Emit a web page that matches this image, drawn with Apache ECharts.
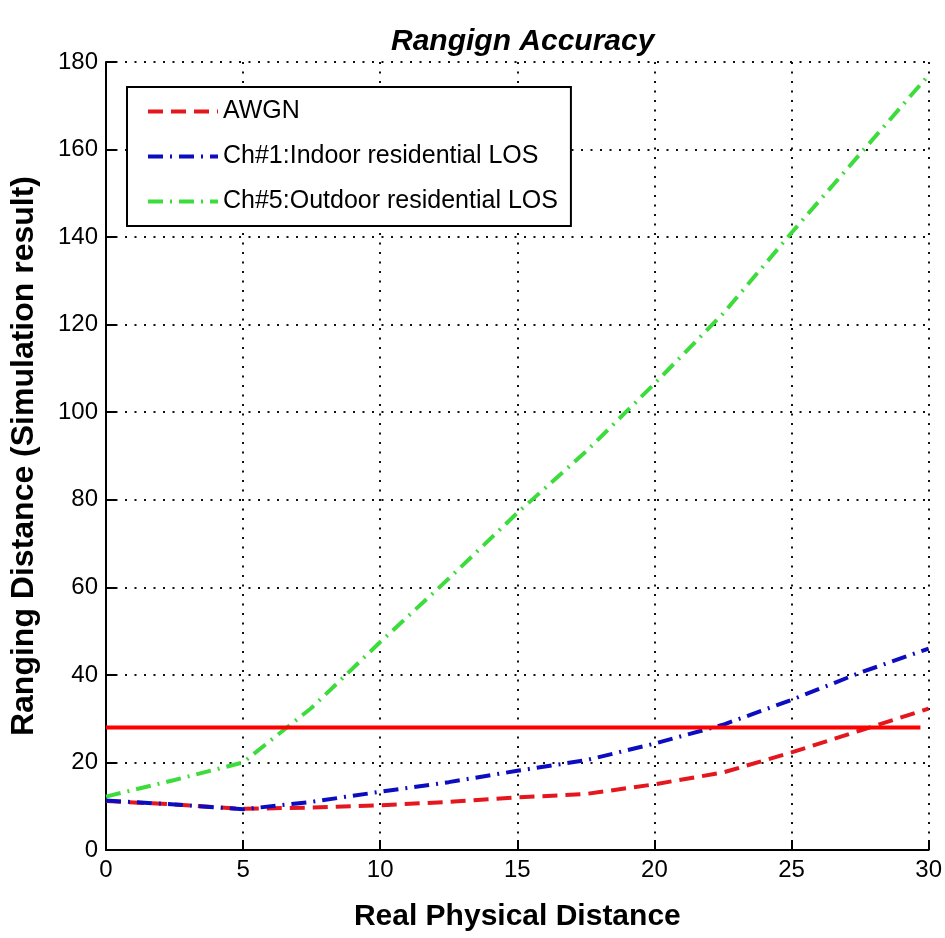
<!DOCTYPE html>
<html>
<head>
<meta charset="utf-8">
<title>Rangign Accuracy</title>
<script src="https://cdn.jsdelivr.net/npm/echarts@6/dist/echarts.min.js"></script>
<style>
  html, body { margin: 0; padding: 0; background: #fff; }
  #chart { width: 945px; height: 938px; }
</style>
</head>
<body>
<div id="chart"></div>
<script>
// values
const distances = [0, 2.5, 5, 7.5, 10, 12.5, 15, 17.5, 20, 22.5, 25, 27.5, 30];
const awgn = [11.2, 10.4, 9.4, 9.7, 10.2, 11, 12, 12.8, 15, 17.7, 22.3, 27.3, 32.3];
const ch1Indoor = [11.3, 10.4, 9.3, 11, 13.3, 15.5, 18.1, 20.5, 24.3, 28.6, 34.3, 40.5, 46];
const ch5Outdoor = [12.2, 16, 20, 32.5, 47.5, 62, 77, 91, 106.5, 122.5, 141, 159, 177];
const limitX = [0, 29.7];
const limitY = [28, 28];
const seriesNames = ["AWGN", "Ch#1:Indoor residential LOS", "Ch#5:Outdoor residential LOS"];

function pairs(xs, ys) {
  return xs.map((x, i) => [x, ys[i]]);
}

const font = "Liberation Sans, Arial, sans-serif";
const chart = echarts.init(document.getElementById("chart"));

const options = {
  backgroundColor: "#fff",
  animation: false,
  title: {
    text: "Rangign Accuracy",
    left: 386,
    top: 22,
    textStyle: {
      fontFamily: font,
      fontSize: 30,
      fontWeight: "bold",
      fontStyle: "italic",
      color: "#000",
    },
  },
  grid: {
    left: 103,
    right: 8,
    top: 62,
    bottom: 88,
  },
  legend: {
    data: seriesNames,
    orient: "vertical",
    left: 127,
    top: 87,
    itemWidth: 70,
    itemHeight: 24,
    itemGap: 20,
    padding: [12, 13, 12, 19],
    borderColor: "#000",
    borderWidth: 2,
    backgroundColor: "#fff",
    itemStyle: { opacity: 0 }, // only the line sample, no marker
    lineStyle: { width: 4 },
    textStyle: {
      fontFamily: font,
      fontSize: 25,
      color: "#000",
    },
  },
  xAxis: {
    type: "value",
    min: 0,
    max: 30,
    interval: 5,
    name: "Real Physical Distance",
    nameLocation: "middle",
    nameGap: 52,
    nameTextStyle: {
      fontFamily: font,
      fontSize: 30,
      fontWeight: "bold",
      color: "#000",
    },
    axisLine: { show: true, lineStyle: { color: "#000", width: 2 } },
    axisTick: { show: true, inside: true, length: 10, lineStyle: { color: "#000", width: 2 } },
    axisLabel: { fontFamily: font, fontSize: 24, color: "#000", margin: 8 },
    splitLine: {
      show: true,
      lineStyle: { color: "#111", width: 2, type: [2, 7.5] },
    },
  },
  yAxis: {
    type: "value",
    min: 0,
    max: 180,
    interval: 20,
    name: "Ranging Distance (Simulation result)",
    nameLocation: "middle",
    nameGap: 66,
    nameTextStyle: {
      fontFamily: font,
      fontSize: 32,
      fontWeight: "bold",
      color: "#000",
    },
    axisLine: { show: true, lineStyle: { color: "#000", width: 2 } },
    axisTick: { show: true, inside: true, length: 10, lineStyle: { color: "#000", width: 2 } },
    axisLabel: { fontFamily: font, fontSize: 24, color: "#000", margin: 8 },
    splitLine: {
      show: true,
      lineStyle: { color: "#111", width: 2, type: [2, 7.5] },
    },
  },
  series: [
    {
      name: seriesNames[0],
      type: "line",
      data: pairs(distances, awgn),
      symbol: "none",
      lineStyle: { color: "#e3171d", width: 4, type: [15, 8] },
      itemStyle: { color: "#e3171d" },
    },
    {
      name: seriesNames[1],
      type: "line",
      data: pairs(distances, ch1Indoor),
      symbol: "none",
      lineStyle: { color: "#0c0cc0", width: 4, type: [15, 7, 2, 7] },
      itemStyle: { color: "#0c0cc0" },
    },
    {
      name: seriesNames[2],
      type: "line",
      data: pairs(distances, ch5Outdoor),
      symbol: "none",
      lineStyle: { color: "#3ddc3d", width: 4, type: [15, 7, 2, 7] },
      itemStyle: { color: "#3ddc3d" },
    },
    {
      // red reference line drawn over the curves
      name: "limit",
      type: "line",
      data: pairs(limitX, limitY),
      symbol: "none",
      lineStyle: { color: "#ff0000", width: 4, type: "solid" },
      z: 5,
    },
  ],
};

chart.setOption(options);
</script>
</body>
</html>
